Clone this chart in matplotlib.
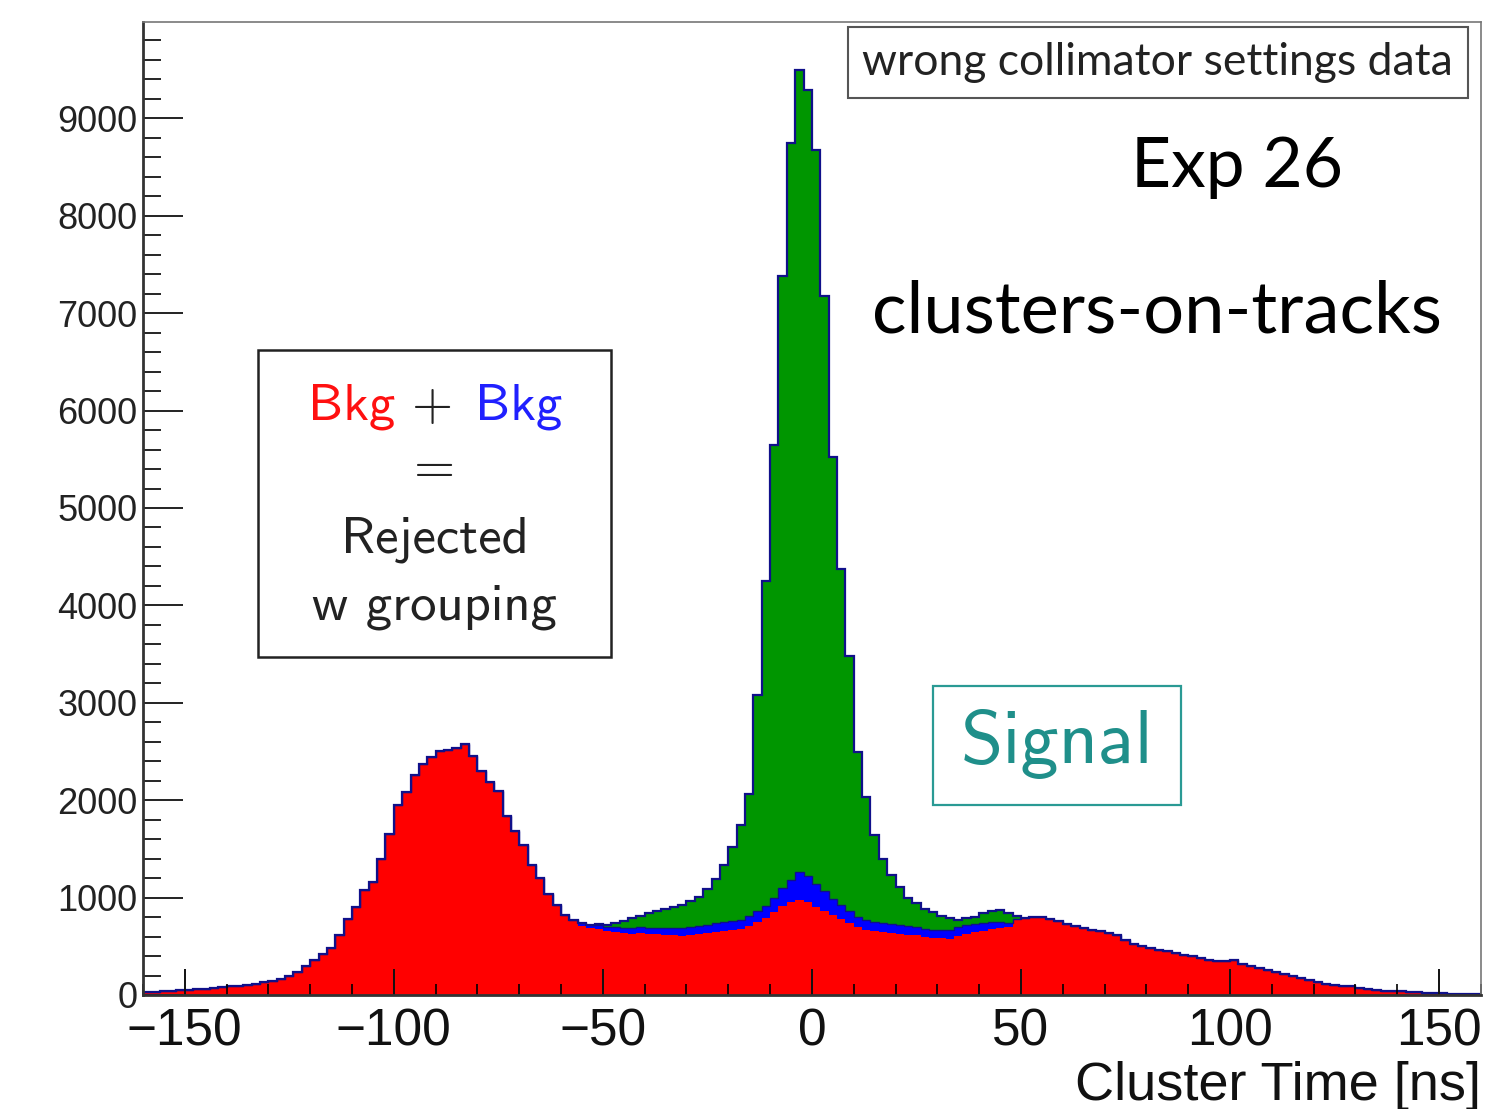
import numpy as np
import matplotlib
matplotlib.use('Agg')
import matplotlib.pyplot as plt
from matplotlib.patches import Rectangle
from matplotlib.ticker import MultipleLocator

# bins of 2 ns from -160 to 160 ns
bin_lo, bin_hi, bin_w = -160, 160, 2

# red background (per bin)
bkg_red = [
    30, 35, 40, 45, 50, 55, 60, 65, 70, 80,
    88, 95, 105, 115, 130, 145, 165, 200, 240, 300,
    360, 420, 480, 620, 780, 900, 1080, 1160, 1400, 1650,
    1950, 2080, 2260, 2370, 2440, 2500, 2520, 2540, 2580, 2450,
    2300, 2190, 2090, 1840, 1680, 1540, 1330, 1200, 1040, 920,
    820, 760, 710, 690, 680, 660, 650, 640, 630, 635,
    630, 625, 620, 615, 610, 620, 630, 640, 650, 660,
    670, 680, 710, 750, 790, 850, 910, 950, 975, 950,
    900, 860, 820, 780, 740, 700, 670, 655, 650, 640,
    630, 620, 615, 600, 590, 585, 580, 610, 630, 645,
    660, 680, 690, 700, 770, 790, 805, 800, 780, 760,
    730, 710, 690, 670, 660, 640, 620, 560, 525, 505,
    480, 465, 450, 435, 415, 400, 375, 355, 345, 345,
    355, 320, 300, 275, 255, 235, 220, 195, 170, 150,
    135, 115, 100, 95, 88, 75, 62, 55, 45, 40,
    36, 33, 30, 25, 20, 17, 14, 12, 10, 9,
]

# blue background, bins from -58 to 50 ns
bkg_blue = [0] * 51 + [
    15, 25, 30, 35, 40, 45, 50, 55, 60, 60,
    65, 70, 70, 75, 75, 80, 80, 85, 85, 90,
    95, 100, 110, 125, 150, 185, 230, 290, 270, 240,
    205, 170, 140, 120, 105, 100, 95, 90, 90, 85,
    85, 80, 75, 75, 80, 85, 85, 90, 85, 80,
    70, 55, 35, 15,
] + [0] * 55

# green signal, bins from -52 to 50 ns
signal = [0] * 54 + [
    10, 20, 40, 70, 105, 120, 150, 170, 190, 215,
    240, 265, 300, 370, 455, 585, 760, 975, 1255, 2220,
    3340, 4650, 6290, 7570, 8230, 8070, 7540, 6115, 4530, 3450,
    2625, 1690, 1260, 890, 660, 500, 395, 295, 245, 205,
    185, 145, 125, 80, 70, 75, 105, 110, 125, 105,
    25,
] + [0] * 55

plt.rcParams['font.family'] = ['Liberation Sans', 'DejaVu Sans']

edges = np.arange(bin_lo, bin_hi + bin_w, bin_w)
red = np.array(bkg_red, dtype=float)
red_blue = red + np.array(bkg_blue, dtype=float)
total = red_blue + np.array(signal, dtype=float)

fig = plt.figure(figsize=(15.11, 11.09), dpi=100)
ax = fig.add_axes([0.0946, 0.1028, 0.8855, 0.8774])

ax.stairs(red, edges, baseline=0, fill=True, color='#ff0000', lw=0)
ax.stairs(red_blue, edges, baseline=red, fill=True, color='#0000ff', lw=0)
ax.stairs(total, edges, baseline=red_blue, fill=True, color='#009600', lw=0)
ax.stairs(red_blue, edges, color='#10108a', lw=1.0)
ax.stairs(total, edges, color='#10108a', lw=1.6)

ax.set_xlim(-160, 160)
ax.set_ylim(0, 9990)
ax.xaxis.set_major_locator(MultipleLocator(50))
ax.xaxis.set_minor_locator(MultipleLocator(10))
ax.yaxis.set_major_locator(MultipleLocator(1000))
ax.yaxis.set_minor_locator(MultipleLocator(200))

ax.tick_params(axis='x', which='major', direction='in', length=19, width=1.4,
               labelsize=37, pad=9, colors='#111111')
ax.tick_params(axis='x', which='minor', direction='in', length=8, width=1.2)
ax.tick_params(axis='y', which='major', direction='in', length=29, width=1.4,
               labelsize=26, pad=4, colors='#222222')
ax.tick_params(axis='y', which='minor', direction='in', length=13, width=1.2)
ax.tick_params(which='both', top=False, right=False)

for s in ['left', 'bottom']:
    ax.spines[s].set_linewidth(2.0)
    ax.spines[s].set_color('#333333')
for s in ['top', 'right']:
    ax.spines[s].set_linewidth(1.2)
    ax.spines[s].set_color('#777777')

ax.text(1.0, -0.108, 'Cluster Time [ns]', transform=ax.transAxes,
        ha='right', va='baseline', fontsize=39, color='#111111')

# boxes and annotations
ax.add_patch(Rectangle((0.527, 0.922), 0.463, 0.073, transform=ax.transAxes,
                       facecolor='white', edgecolor='#555555', lw=1.5, zorder=5))
ax.text(0.7585, 0.958, 'wrong collimator settings data', transform=ax.transAxes,
        ha='center', va='center', fontsize=32, family='Lato', color='#222222', zorder=6)

ax.text(0.818, 0.830, 'Exp 26', transform=ax.transAxes, ha='center',
        va='baseline', fontsize=50, family='Lato', color='black')
ax.text(0.758, 0.681, 'clusters-on-tracks', transform=ax.transAxes, ha='center',
        va='baseline', fontsize=52, family='Lato', color='black')

cm = ['cmss10', 'DejaVu Sans']
ax.add_patch(Rectangle((0.086, 0.3474), 0.2638, 0.3155, transform=ax.transAxes,
                       facecolor='white', edgecolor='#222222', lw=1.8, zorder=5))
ax.text(0.1883, 0.591, 'Bkg', transform=ax.transAxes, ha='right', va='baseline',
        fontsize=38, family=cm, color='#ff1010', zorder=6)
ax.text(0.2167, 0.591, '+', transform=ax.transAxes, ha='center', va='baseline',
        fontsize=38, family=cm, color='#222222', zorder=6)
ax.text(0.2481, 0.591, 'Bkg', transform=ax.transAxes, ha='left', va='baseline',
        fontsize=38, family=cm, color='#2020ff', zorder=6)
ax.text(0.2179, 0.5396, '=', transform=ax.transAxes, ha='center', va='center',
        fontsize=38, family=cm, color='#222222', zorder=6)
ax.text(0.2179, 0.4543, 'Rejected', transform=ax.transAxes, ha='center', va='baseline',
        fontsize=38, family=cm, color='#222222', zorder=6)
ax.text(0.2179, 0.3854, 'w grouping', transform=ax.transAxes, ha='center', va='baseline',
        fontsize=38, family=cm, color='#222222', zorder=6)

ax.add_patch(Rectangle((0.5904, 0.1953), 0.1854, 0.1223, transform=ax.transAxes,
                       facecolor='white', edgecolor='#2a9a94', lw=1.6, zorder=5))
ax.text(0.6831, 0.2384, 'Signal', transform=ax.transAxes, ha='center', va='baseline',
        fontsize=55, family=cm, color='#1f8f8a', zorder=6)

fig.savefig('out.png', dpi=100)
